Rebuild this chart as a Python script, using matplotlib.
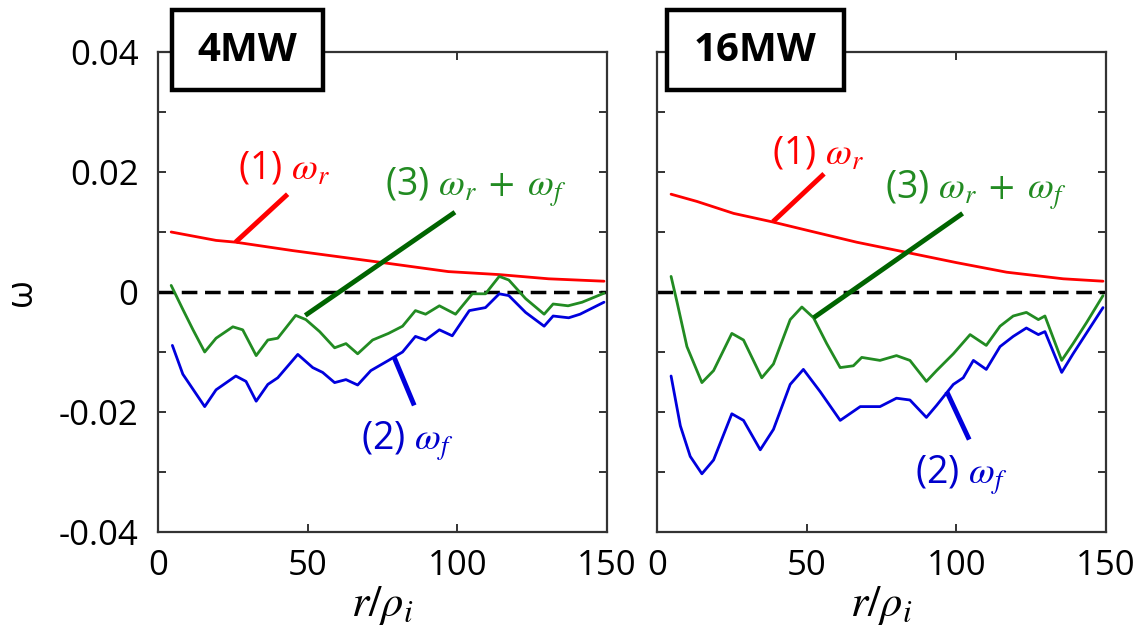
import matplotlib
matplotlib.use("Agg")
import matplotlib.pyplot as plt
from matplotlib.patches import Rectangle

plt.rcParams['font.family'] = ['Open Sans', 'DejaVu Sans']
plt.rcParams['mathtext.fontset'] = 'stix'

# ---------------- data ----------------
# 4MW panel
r4_red = [4.4, 19.4, 26, 45, 75, 97, 114, 130.5, 149]
w4_red = [0.0100, 0.0086, 0.0083, 0.0069, 0.0049, 0.0034, 0.0029, 0.0022, 0.0018]

r4_grn = [4.4, 8.3, 11.7, 15.6, 19.4, 25, 28.3, 32.8, 36.7, 40, 46, 49.4, 54, 59,
          62.8, 66.7, 71.7, 77, 81.7, 86, 89.4, 94, 99.4, 105, 109.4, 114, 117.2,
          122.8, 129, 132, 137, 141.7, 149]
w4_grn = [0.0011, -0.0029, -0.0063, -0.0100, -0.0077, -0.0058, -0.0063, -0.0106,
          -0.0080, -0.0077, -0.0039, -0.0046, -0.0066, -0.0093, -0.0086, -0.0103,
          -0.0080, -0.0069, -0.0057, -0.0031, -0.0037, -0.0023, -0.0037, -0.0003,
          -0.0003, 0.0026, 0.0020, -0.0011, -0.0037, -0.0020, -0.0023, -0.0017,
          -0.0002]

r4_blu = [4.8, 8.3, 15.6, 19.4, 26, 29.4, 32.8, 36.7, 40, 46.7, 51.7, 55, 59, 62.8,
          66.7, 71.1, 77, 81.7, 86, 89.4, 94, 98.3, 104, 109.4, 114, 117.2, 122.8,
          129, 132, 137.2, 141, 149]
w4_blu = [-0.0089, -0.0137, -0.0191, -0.0163, -0.0140, -0.0149, -0.0182, -0.0154,
          -0.0143, -0.0104, -0.0126, -0.0134, -0.0151, -0.0146, -0.0155, -0.0131,
          -0.0114, -0.0100, -0.0074, -0.0080, -0.0063, -0.0073, -0.0031, -0.0026,
          -0.0003, -0.0006, -0.0034, -0.0057, -0.0040, -0.0043, -0.0037, -0.0017]

# 16MW panel
r16_red = [4.7, 13.3, 25.6, 38.4, 50, 66.7, 83.4, 100, 116.8, 135.7, 149]
w16_red = [0.0163, 0.0151, 0.0131, 0.0117, 0.0103, 0.0083, 0.0066, 0.0049, 0.0033,
           0.0022, 0.0018]

r16_grn = [4.7, 6.7, 10, 15, 18.9, 25, 28.9, 35, 38.9, 44.5, 48.4, 52.3, 56.7, 61.2,
           65.6, 68.4, 74.5, 80, 84.5, 90, 93.4, 99, 104.6, 110, 114.6, 119, 123.4,
           127.4, 129.6, 135.2, 139, 143.5, 149]
w16_grn = [0.0026, -0.0017, -0.0091, -0.0151, -0.0131, -0.0069, -0.0080, -0.0143,
           -0.0120, -0.0046, -0.0025, -0.0043, -0.0086, -0.0126, -0.0123, -0.0109,
           -0.0114, -0.0106, -0.0114, -0.0149, -0.0131, -0.0103, -0.0071, -0.0089,
           -0.0057, -0.0040, -0.0034, -0.0046, -0.0040, -0.0114, -0.0086, -0.0051,
           -0.0006]

r16_blu = [4.7, 7.8, 11.1, 15, 18.9, 25, 28.9, 34.5, 38.9, 44.5, 48.9, 54.5, 61.2,
           67.9, 74.5, 80, 84.5, 90, 93.4, 99, 102.3, 105.7, 110, 114.6, 119, 123.4,
           127.4, 129.6, 135.2, 139, 149]
w16_blu = [-0.0140, -0.0223, -0.0274, -0.0303, -0.0280, -0.0203, -0.0214, -0.0263,
           -0.0229, -0.0154, -0.0129, -0.0166, -0.0214, -0.0191, -0.0191, -0.0177,
           -0.0180, -0.0209, -0.0189, -0.0154, -0.0143, -0.0114, -0.0129, -0.0091,
           -0.0074, -0.0060, -0.0071, -0.0066, -0.0134, -0.0103, -0.0026]

titles = ['4MW', '16MW']
xticks = [0, 50, 100, 150]
yticks = [0.04, 0.03, 0.02, 0.01, 0.0, -0.01, -0.02, -0.03, -0.04]
ytick_labels = ['0.04', '', '0.02', '', '0', '', '-0.02', '', '-0.04']

# annotation label positions: (text x, text y, pointer start, pointer end)
ann4 = {
    'red': ((26.7, 0.0206), (43.3, 0.0163), (25.9, 0.0083)),
    'grn': ((76.0, 0.0174), (99.2, 0.0133), (49.2, -0.0039)),
    'blu': ((67.8, -0.0249), (85.6, -0.0189), (78.9, -0.0109)),
}
ann16 = {
    'red': ((38.4, 0.0231), (55.8, 0.0197), (38.7, 0.0117)),
    'grn': ((76.2, 0.0169), (102.1, 0.0131), (52.3, -0.0043)),
    'blu': ((86.2, -0.0306), (104.3, -0.0246), (96.8, -0.0166)),
}

RED = '#ff0000'
GRN = '#228b22'
GRN_D = '#006400'
BLU = '#0000dd'
BLU_T = '#0000cc'

fig = plt.figure(figsize=(11.38, 6.30), dpi=100)
W, H = 1138, 630
ax_l = fig.add_axes([158 / W, (630 - 532) / H, 449 / W, 480 / H])
ax_r = fig.add_axes([657 / W, (630 - 532) / H, 449 / W, 480 / H])

panels = [
    (ax_l, r4_red, w4_red, r4_grn, w4_grn, r4_blu, w4_blu, ann4, (0.031, 0.367)),
    (ax_r, r16_red, w16_red, r16_grn, w16_grn, r16_blu, w16_blu, ann16, (0.022, 0.4165)),
]

labels = {'red': r'(1) $\omega_r$', 'grn': r'(3) $\omega_r\;+\;\omega_f$', 'blu': r'(2) $\omega_f$'}
tcol = {'red': RED, 'grn': GRN, 'blu': BLU_T}
pcol = {'red': RED, 'grn': GRN_D, 'blu': BLU}

for i, (ax, xr, yr, xg, yg, xb, yb, ann, box) in enumerate(panels):
    ax.set_xlim(0, 150)
    ax.set_ylim(-0.04, 0.04)
    ax.axhline(0, color='black', lw=2.5, ls=(0, (4.5, 2.2)), zorder=2)
    for xs, ys, c in ((xr, yr, RED), (xg, yg, GRN), (xb, yb, BLU)):
        ax.plot(xs, ys, color=c, lw=2.0, zorder=3, solid_joinstyle='round',
                solid_capstyle='round')

    for key in ('red', 'grn', 'blu'):
        (tx, ty), p0, p1 = ann[key]
        ax.text(tx, ty, labels[key], color=tcol[key], fontsize=27,
                ha='left', va='center', zorder=5)
        ax.plot([p0[0], p1[0]], [p0[1], p1[1]], color=pcol[key], lw=3.5,
                solid_capstyle='butt', zorder=4)

    ax.set_xticks(xticks)
    ax.set_xticklabels([str(v) for v in xticks])
    ax.set_yticks(yticks)
    if i == 0:
        ax.set_yticklabels(ytick_labels)
    else:
        ax.set_yticklabels([])
    ax.tick_params(axis='both', direction='in', length=6, width=1.4,
                   top=True, right=True, colors='#333333', labelcolor='black',
                   labelsize=25)
    ax.tick_params(axis='y', pad=14)
    ax.tick_params(axis='x', pad=12)
    for s in ax.spines.values():
        s.set_color('#333333')
        s.set_linewidth(1.6)

    ax.set_xlabel(r'$r/\rho_i$', fontsize=32, labelpad=0)

    x0, x1 = box
    rect = Rectangle((x0, 0.921), x1 - x0, 1.0875 - 0.921, transform=ax.transAxes,
                     facecolor='white', edgecolor='black', lw=3.2, clip_on=False,
                     zorder=10)
    ax.add_patch(rect)
    ax.text((x0 + x1) / 2, 1.004, titles[i], transform=ax.transAxes,
            fontsize=29, fontweight='bold', ha='center', va='center', zorder=11)

fig.text(22 / W, 1 - 292 / H, '\u03c9', rotation=90, fontsize=26,
         ha='center', va='center')

fig.savefig('out.png', dpi=100)
